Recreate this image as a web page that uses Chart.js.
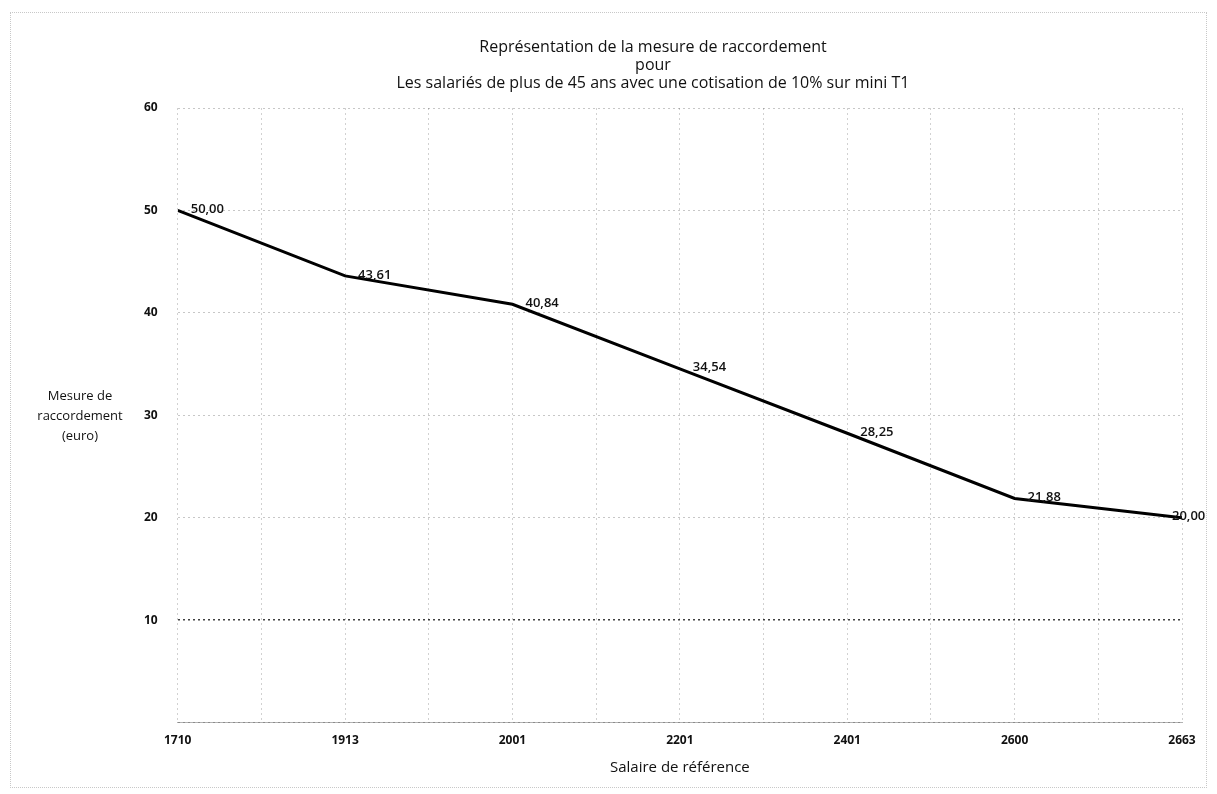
<!DOCTYPE html>
<html>
<head>
<meta charset="utf-8">
<script src="https://cdn.jsdelivr.net/npm/chart.js@4"></script>
<style>
  html,body{margin:0;padding:0;background:#fff;}
  #wrap{position:relative;width:1217px;height:794px;}
  canvas{position:absolute;left:0;top:0;}
  #frame{position:absolute;left:10px;top:12px;width:1197px;height:776px;border:1px dotted #c8c8c8;box-sizing:border-box;}
  #ytitle{position:absolute;left:30px;top:385px;width:100px;text-align:center;
    font-family:'Open Sans', sans-serif;font-size:13px;line-height:20px;color:#111;}
</style>
</head>
<body>
<div id="wrap">
  <div id="frame"></div>
  <canvas id="c" width="1217" height="794"></canvas>
  <div id="ytitle">Mesure de<br>raccordement<br>(euro)</div>
</div>
<script>
const categories = ['1710', '1913', '2001', '2201', '2401', '2600', '2663'];
const values = [50.00, 43.61, 40.84, 34.54, 28.25, 21.88, 20.00];
const titleLines = [
  'Représentation de la mesure de raccordement',
  'pour',
  'Les salariés de plus de 45 ans avec une cotisation de 10% sur mini T1'
];
const xTitle = 'Salaire de référence';
const yTicks = [0, 10, 20, 30, 40, 50, 60];

const FONT = "'Open Sans', sans-serif";

const labelPlugin = {
  id: 'pointLabels',
  afterDatasetsDraw(chart) {
    const ctx = chart.ctx;
    const meta = chart.getDatasetMeta(0);
    ctx.save();
    ctx.font = '600 13px ' + FONT;
    ctx.fillStyle = '#111';
    ctx.textBaseline = 'middle';
    ctx.textAlign = 'left';
    meta.data.forEach((pt, i) => {
      const txt = values[i].toFixed(2).replace('.', ',');
      const w = ctx.measureText(txt).width;
      let x = pt.x + 13;
      if (x + w > chart.width - 4) x = pt.x - 10;
      ctx.fillText(txt, x, pt.y - 1);
    });
    ctx.restore();
  }
};

new Chart(document.getElementById('c'), {
  type: 'line',
  data: {
    datasets: [{
      data: values.map((v, i) => ({ x: i, y: v })),
      borderColor: '#000',
      borderWidth: 3,
      pointRadius: 0,
      tension: 0,
      fill: false
    }]
  },
  options: {
    responsive: false,
    animation: false,
    layout: { padding: { left: 124, right: 35, top: 38, bottom: 17 } },
    plugins: {
      legend: { display: false },
      tooltip: { enabled: false },
      title: {
        display: true,
        text: titleLines,
        color: '#111',
        font: { family: FONT, size: 16, weight: 'normal', lineHeight: 1.125 },
        padding: { top: 0, bottom: 16 }
      }
    },
    scales: {
      x: {
        type: 'linear',
        min: 0,
        max: categories.length - 1,
        ticks: {
          stepSize: 0.5,
          autoSkip: false,
          maxRotation: 0,
          color: '#111',
          font: { family: FONT, size: 12, weight: 'bold' },
          padding: 11,
          callback: (v) => Number.isInteger(v) ? categories[v] : ''
        },
        grid: {
          color: 'rgba(0,0,0,0.18)',
          lineWidth: 1,
          drawTicks: false
        },
        border: { display: true, color: 'rgba(0,0,0,0.3)', dash: [2, 3] },
        title: {
          display: true,
          text: xTitle,
          color: '#111',
          font: { family: FONT, size: 15 },
          padding: { top: 0, bottom: 0 }
        }
      },
      y: {
        min: 0,
        max: 60,
        afterBuildTicks: (s) => { s.ticks = yTicks.map(v => ({ value: v })); },
        ticks: {
          color: '#111',
          font: { family: FONT, size: 12, weight: 'bold' },
          padding: 20,
          callback: (v) => v === 0 ? '' : String(v)
        },
        grid: {
          color: (c) => c.tick && c.tick.value === 10 ? 'rgba(0,0,0,0.75)' : 'rgba(0,0,0,0.22)',
          lineWidth: (c) => c.tick && c.tick.value === 10 ? 1.5 : 1,
          drawTicks: false
        },
        border: { display: false, dash: [2, 3] }
      }
    }
  },
  plugins: [labelPlugin]
});
</script>
</body>
</html>
